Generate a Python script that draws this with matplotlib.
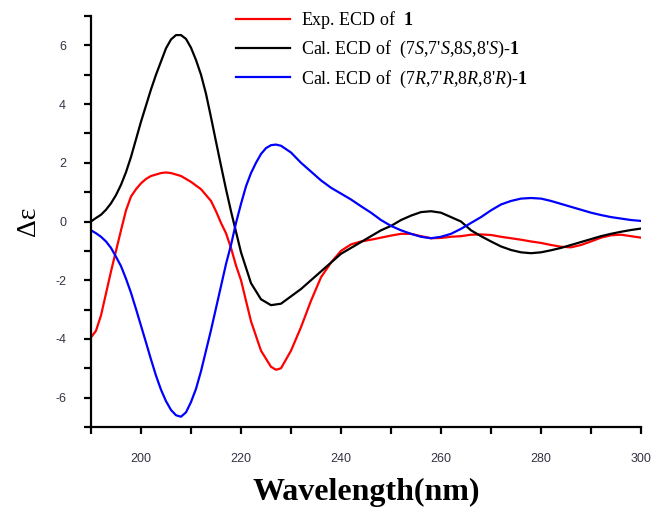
import matplotlib
matplotlib.use('Agg')
from matplotlib import pyplot as plt
from matplotlib.ticker import MultipleLocator

# Exp. ECD of 1
exp_wl = [190, 191, 192, 193, 194, 195, 196, 197, 198, 199, 200, 201, 202, 204, 205, 206, 208,
          210, 212, 214, 215, 216, 217, 218, 219, 220, 222, 224, 226, 227, 228, 230, 232, 234,
          236, 238, 240, 242, 244, 246, 248, 250, 252, 254, 256, 258, 260, 262, 264, 266, 268,
          270, 272, 274, 276, 278, 280, 282, 284, 286, 288, 290, 292, 294, 296, 298, 300]
exp_cd = [-3.95, -3.72, -3.2, -2.45, -1.7, -1.0, -0.3, 0.38, 0.85, 1.1, 1.3, 1.45, 1.55, 1.65,
          1.67, 1.65, 1.55, 1.35, 1.1, 0.7, 0.35, -0.05, -0.4, -0.9, -1.5, -2.0, -3.4, -4.4,
          -4.95, -5.05, -5.0, -4.4, -3.6, -2.7, -1.9, -1.4, -1.0, -0.78, -0.68, -0.62, -0.55,
          -0.48, -0.42, -0.42, -0.5, -0.57, -0.56, -0.52, -0.5, -0.45, -0.44, -0.46, -0.52,
          -0.57, -0.62, -0.68, -0.73, -0.8, -0.86, -0.88, -0.8, -0.68, -0.55, -0.47, -0.45,
          -0.5, -0.55]

# Cal. ECD of (7S,7'S,8S,8'S)-1
ss_wl = [190, 191, 192, 193, 194, 195, 196, 197, 198, 199, 200, 201, 202, 203, 204, 205, 206,
         207, 208, 209, 210, 211, 212, 213, 214, 215, 216, 217, 218, 219, 220, 222, 224, 226,
         228, 230, 232, 234, 236, 238, 240, 244, 248, 250, 252, 254, 256, 258, 260, 262, 264,
         266, 268, 270, 272, 274, 276, 278, 280, 282, 284, 286, 288, 290, 292, 294, 296, 298,
         300]
ss_cd = [0.0, 0.12, 0.23, 0.4, 0.62, 0.9, 1.25, 1.68, 2.2, 2.8, 3.4, 3.95, 4.5, 5.0, 5.45,
         5.9, 6.2, 6.35, 6.35, 6.22, 5.92, 5.5, 5.0, 4.35, 3.55, 2.72, 1.9, 1.1, 0.35, -0.35,
         -1.05, -2.1, -2.65, -2.85, -2.8, -2.55, -2.3, -2.0, -1.7, -1.4, -1.1, -0.7, -0.3,
         -0.15, 0.05, 0.2, 0.32, 0.35, 0.3, 0.15, 0.0, -0.3, -0.5, -0.68, -0.85, -0.97, -1.05,
         -1.08, -1.05, -0.98, -0.9, -0.8, -0.7, -0.6, -0.5, -0.42, -0.35, -0.29, -0.24]

# Cal. ECD of (7R,7'R,8R,8'R)-1
rr_wl = [190, 191, 192, 193, 194, 195, 196, 197, 198, 199, 200, 201, 202, 203, 204, 205, 206,
         207, 208, 209, 210, 211, 212, 213, 214, 215, 216, 217, 218, 219, 220, 221, 222, 223,
         224, 225, 226, 227, 228, 230, 232, 234, 236, 238, 240, 242, 244, 246, 248, 250, 252,
         254, 256, 258, 260, 262, 264, 266, 268, 270, 272, 274, 276, 278, 280, 282, 284, 286,
         288, 290, 292, 294, 296, 298, 300]
rr_cd = [-0.3, -0.4, -0.52, -0.68, -0.9, -1.2, -1.52, -1.95, -2.43, -2.98, -3.55, -4.12, -4.7,
         -5.25, -5.73, -6.12, -6.42, -6.6, -6.65, -6.5, -6.15, -5.7, -5.1, -4.4, -3.7, -2.95,
         -2.2, -1.45, -0.8, -0.05, 0.6, 1.2, 1.65, 2.0, 2.3, 2.5, 2.6, 2.62, 2.58, 2.35, 2.0,
         1.7, 1.4, 1.15, 0.95, 0.75, 0.52, 0.3, 0.05, -0.15, -0.3, -0.42, -0.52, -0.57, -0.52,
         -0.42, -0.25, -0.05, 0.15, 0.38, 0.58, 0.7, 0.78, 0.8, 0.78, 0.7, 0.6, 0.5, 0.4, 0.3,
         0.22, 0.15, 0.1, 0.05, 0.02]

labels = [r'Exp. ECD of  $\mathbf{1}$',
          r"Cal. ECD of  (7$S$,7'$S$,8$S$,8'$S$)-$\mathbf{1}$",
          r"Cal. ECD of  (7$R$,7'$R$,8$R$,8'$R$)-$\mathbf{1}$"]

# serif text for legend and axis titles, mathtext follows the same font
plt.rcParams['mathtext.fontset'] = 'custom'
plt.rcParams['mathtext.rm'] = 'Liberation Serif'
plt.rcParams['mathtext.it'] = 'Liberation Serif:italic'
plt.rcParams['mathtext.bf'] = 'Liberation Serif:bold'
plt.rcParams['axes.unicode_minus'] = False

fig = plt.figure(figsize=(6.55, 5.08), dpi=100)
ax = fig.add_axes([91 / 655, 1 - 427 / 508, 550 / 655, 411 / 508])

ax.plot(exp_wl, exp_cd, color='#ff0000', lw=1.6, label=labels[0])
ax.plot(ss_wl, ss_cd, color='#000000', lw=1.6, label=labels[1])
ax.plot(rr_wl, rr_cd, color='#0000ff', lw=1.6, label=labels[2])

ax.set_xlim(190, 300)
ax.set_ylim(-7, 7)
ax.xaxis.set_major_locator(MultipleLocator(20))
ax.xaxis.set_minor_locator(MultipleLocator(10))
ax.yaxis.set_major_locator(MultipleLocator(2))
ax.yaxis.set_minor_locator(MultipleLocator(1))

# only left and bottom axes, ticks outside
for side in ['top', 'right']:
    ax.spines[side].set_visible(False)
for side in ['left', 'bottom']:
    ax.spines[side].set_linewidth(1.6)
ax.tick_params(which='both', direction='out', width=1.6, colors='black',
               labelcolor='#333344', labelsize=9)
ax.tick_params(axis='x', which='both', length=5, pad=14)
ax.tick_params(axis='y', which='both', length=5, pad=13)
for lab in ax.get_xticklabels() + ax.get_yticklabels():
    lab.set_family('Liberation Sans')

ax.set_xlabel('Wavelength(nm)', family='Liberation Serif', fontweight='bold',
              fontsize=23, labelpad=9)
ax.set_ylabel('Δε', family='Liberation Serif', fontsize=20, labelpad=10)

leg = ax.legend(loc='upper left', bbox_to_anchor=(236 / 655, 1 - 9 / 508),
                bbox_transform=fig.transFigure, frameon=False, borderpad=0,
                borderaxespad=0, handlelength=3.0, handletextpad=0.6,
                labelspacing=0.45, prop={'family': 'Liberation Serif', 'size': 13})

plt.savefig('out.png', dpi=100)
plt.close()
